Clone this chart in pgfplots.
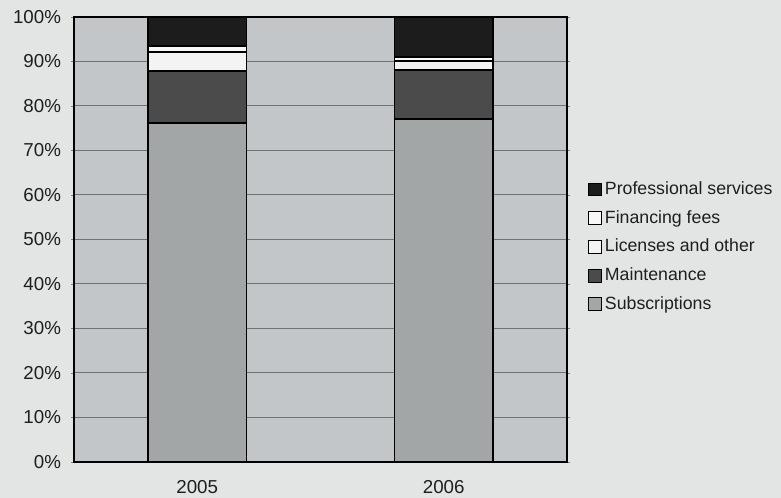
\documentclass[border=0pt]{standalone}
\usepackage{pgfplots}
\pgfplotsset{compat=1.18}
\usepackage{fontspec}
\setmainfont{Liberation Sans}

\definecolor{pagebg}{HTML}{E3E5E5}
\definecolor{plotbg}{HTML}{C3C6C8}
\definecolor{gridc}{HTML}{6E7276}
\definecolor{subsc}{HTML}{A3A6A7}
\definecolor{maint}{HTML}{4B4B4B}
\definecolor{licen}{HTML}{F3F3F3}
\definecolor{finan}{HTML}{F7F7F7}
\definecolor{profs}{HTML}{1C1C1C}
\definecolor{txt}{HTML}{1E1E1E}

\pgfplotsset{
  boxleg/.style={legend image code/.code={
    \draw[##1,draw=black,line width=0.5bp] (0bp,-3.2bp) rectangle (6.5bp,3.2bp);}},
}

\begin{document}
\begin{tikzpicture}
% page background and overall picture size
\fill[pagebg] (-37bp,-18bp) rectangle (353.5bp,231bp);
\useasboundingbox (-37bp,-18bp) rectangle (353.5bp,231bp);
\begin{axis}[
  at={(0,0)}, anchor=south west,
  scale only axis,
  width=246.5bp, height=222.5bp,
  ybar stacked,
  bar width=0.4,
  xmin=-0.5, xmax=1.5,
  ymin=0, ymax=100,
  xtick={0,1}, xticklabels={2005,2006},
  ytick={0,10,...,100},
  yticklabels={0\%,10\%,20\%,30\%,40\%,50\%,60\%,70\%,80\%,90\%,100\%},
  major x tick style={draw=none},
  tick align=outside,
  major tick length=1.5bp,
  ymajorgrids,
  grid style={gridc, line width=0.5bp},
  axis line style={black, line width=0.9bp},
  axis background/.style={fill=plotbg},
  tick label style={font=\fontsize{9.4}{11}\selectfont, text=txt},
  yticklabel style={xshift=-1.5bp},
  xticklabel style={yshift=-4bp},
  legend style={at={(1.03,0.649)}, anchor=north west, draw=none, fill=none,
    font=\fontsize{8.9}{11}\selectfont, text=txt, row sep=2.45bp,
    /tikz/every odd column/.append style={column sep=-0.6bp}},
  legend cell align=left,
  reverse legend,
]
\addplot[fill=subsc, draw=black, line width=0.9bp, boxleg] coordinates {(0,76.2) (1,77.1)};
\addplot[fill=maint, draw=black, line width=0.9bp, boxleg] coordinates {(0,11.7) (1,10.9)};
\addplot[fill=licen, draw=black, line width=0.9bp, boxleg] coordinates {(0,4.3) (1,2.2)};
\addplot[fill=finan, draw=black, line width=0.9bp, boxleg] coordinates {(0,1.3) (1,0.9)};
\addplot[fill=profs, draw=black, line width=0.9bp, boxleg] coordinates {(0,6.5) (1,8.9)};
\legend{Subscriptions,Maintenance,Licenses and other,Financing fees,Professional services}
\end{axis}
\end{tikzpicture}
\end{document}
